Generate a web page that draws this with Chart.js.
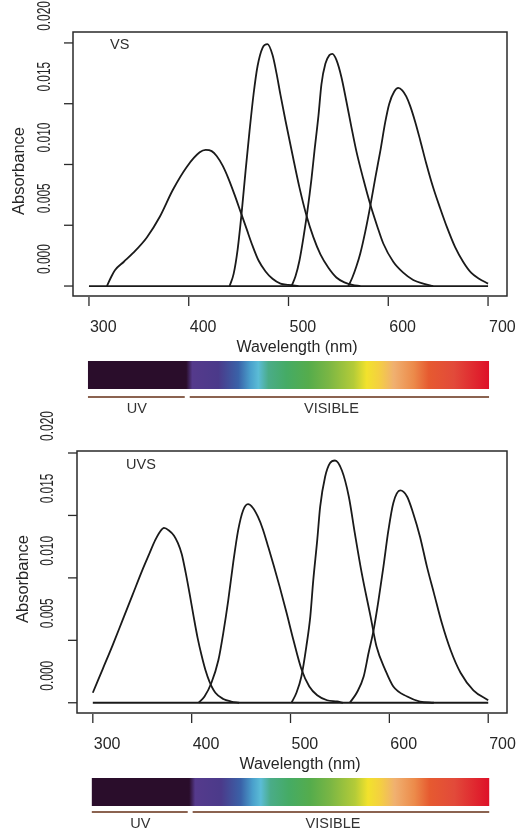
<!DOCTYPE html>
<html>
<head>
<meta charset="utf-8">
<script src="https://cdn.jsdelivr.net/npm/chart.js@4.4.0/dist/chart.umd.min.js"></script>
<style>
  html, body { margin: 0; padding: 0; background: #fff; }
  .panel { position: absolute; left: 0; width: 525px; }
</style>
</head>
<body>
<div class="panel" style="top:0;height:420px"><canvas id="vs"></canvas></div>
<div class="panel" style="top:400px;height:434px"><canvas id="uvs"></canvas></div>
<script>
// axis ticks
const xTicks = [300, 400, 500, 600, 700];
const yTicks = [0, 0.005, 0.010, 0.015, 0.020];
const yTickLabels = ["0.000", "0.005", "0.010", "0.015", "0.020"];
const baseNm = [300, 700];
const baseAbs = [0, 0];

// VS panel
const vs1Nm  = [318, 322, 326, 335, 344, 358, 371, 384, 398, 411, 417, 423, 428, 434, 440, 446, 452, 458, 464, 470, 477, 484, 492, 500, 510];
const vs1Abs = [0, 0.0007, 0.0013, 0.0020, 0.0027, 0.0040, 0.0057, 0.0079, 0.0098, 0.0110, 0.0112, 0.0111, 0.0107, 0.0099, 0.0088, 0.0075, 0.0061, 0.0047, 0.0033, 0.0021, 0.0012, 0.0006, 0.0002, 0.0001, 0];
const vs2Nm  = [441, 445, 449, 453, 457, 461, 465, 469, 474, 479, 484, 488, 492, 497, 504, 511, 518, 525, 532, 540, 548, 556, 564, 572];
const vs2Abs = [0, 0.0010, 0.0030, 0.0060, 0.0095, 0.0128, 0.0158, 0.0181, 0.0196, 0.0199, 0.0190, 0.0175, 0.0157, 0.0136, 0.0108, 0.0081, 0.0058, 0.0040, 0.0026, 0.0015, 0.0007, 0.0003, 0.0001, 0];
const vs3Nm  = [503, 507, 511, 515, 519, 523, 526, 530, 533, 537, 541, 544, 548, 553, 558, 563, 568, 575, 582, 589, 595, 605, 615, 625, 635, 645];
const vs3Abs = [0, 0.0008, 0.0021, 0.0040, 0.0062, 0.0088, 0.0111, 0.0140, 0.0166, 0.0183, 0.0190, 0.0191, 0.0186, 0.0172, 0.0152, 0.0131, 0.0111, 0.0088, 0.0067, 0.0049, 0.0035, 0.0020, 0.0011, 0.0005, 0.0002, 0];
const vs4Nm  = [560, 564, 568, 572, 577, 582, 587, 592, 597, 601, 606, 610, 614, 618, 622, 627, 632, 638, 645, 652, 659, 667, 675, 683, 691, 700];
const vs4Abs = [0, 0.0007, 0.0016, 0.0027, 0.0045, 0.0066, 0.0089, 0.0111, 0.0135, 0.0150, 0.0160, 0.0163, 0.0161, 0.0156, 0.0148, 0.0135, 0.0120, 0.0101, 0.0081, 0.0064, 0.0048, 0.0032, 0.0020, 0.0011, 0.0006, 0.0002];

// UVS panel
const uvs1Nm  = [300, 310, 320, 330, 340, 350, 357, 363, 368, 372, 377, 382, 386, 390, 394, 398, 402, 406, 410, 414, 418, 424, 432, 440, 448];
const uvs1Abs = [0.0008, 0.0027, 0.0046, 0.0066, 0.0086, 0.0106, 0.0119, 0.0130, 0.0137, 0.0140, 0.0138, 0.0134, 0.0128, 0.0119, 0.0104, 0.0087, 0.0069, 0.0052, 0.0038, 0.0026, 0.0017, 0.0008, 0.0003, 0.0001, 0];
const uvs2Nm  = [407, 413, 420, 427, 432, 437, 442, 447, 452, 457, 462, 467, 472, 477, 483, 489, 496, 503, 511, 519, 527, 537, 547, 553];
const uvs2Abs = [0, 0.0005, 0.0016, 0.0034, 0.0056, 0.0082, 0.0112, 0.0138, 0.0154, 0.0159, 0.0156, 0.0149, 0.0139, 0.0126, 0.0110, 0.0093, 0.0072, 0.0050, 0.0027, 0.0013, 0.0006, 0.0002, 0.0001, 0];
const uvs3Nm  = [501, 506, 511, 516, 520, 523, 527, 530, 535, 540, 545, 552, 559, 565, 572, 581, 587, 596, 604, 618, 631, 645];
const uvs3Abs = [0, 0.0008, 0.0021, 0.0045, 0.0069, 0.0098, 0.0130, 0.0157, 0.0181, 0.0192, 0.0194, 0.0186, 0.0165, 0.0136, 0.0104, 0.0069, 0.0045, 0.0026, 0.0013, 0.0005, 0.0001, 0];
const uvs4Nm  = [560, 567, 574, 579, 584, 589, 594, 599, 604, 611, 618, 624, 631, 638, 645, 653, 662, 672, 685, 700];
const uvs4Abs = [0, 0.0008, 0.0021, 0.0040, 0.0058, 0.0082, 0.0109, 0.0138, 0.0160, 0.0170, 0.0165, 0.0152, 0.0133, 0.0109, 0.0088, 0.0064, 0.0042, 0.0024, 0.0010, 0.0002];

// colour bar under each panel
const spectrumNm = [300, 398, 404, 430, 450, 462, 470, 480, 498, 520, 540, 565, 578, 590, 605, 625, 640, 665, 700];
const spectrumColors = ["#2a0d2b", "#2a0d2b", "#553a8c", "#4b3a8a", "#3a62a8", "#4aa0cc", "#5bbcd6", "#4aac88", "#45ab65",
  "#55ac4c", "#7ab644", "#b4cb38", "#f2e22c", "#f4d040", "#f0b070", "#ec8a4a", "#e65a30", "#e24a3a", "#de1028"];

function pts(nm, abs) {
    return nm.map((x, i) => ({ x: x, y: abs[i] }));
}

function curve(nm, abs) {
    return {
        data: pts(nm, abs),
        borderColor: "#1a1a1a",
        borderWidth: 1.8,
        pointRadius: 0,
        fill: false,
        cubicInterpolationMode: "monotone",
    };
}

const FONT = '"Liberation Sans", Arial, sans-serif';

// R style frame, ticks, labels and the spectrum strip
const rAxes = {
    id: "rAxes",
    afterDraw(chart, args, o) {
        const { ctx, chartArea: a } = chart;
        const x = chart.scales.x, y = chart.scales.y;
        ctx.save();
        ctx.strokeStyle = "#2a2a2a";
        ctx.lineWidth = 1.5;
        ctx.strokeRect(a.left, a.top, a.right - a.left, a.bottom - a.top);

        ctx.lineWidth = 1.3;
        ctx.fillStyle = "#262626";
        yTicks.forEach((v, i) => {
            const py = y.getPixelForValue(v);
            ctx.beginPath();
            ctx.moveTo(a.left - 9, py);
            ctx.lineTo(a.left, py);
            ctx.stroke();
            ctx.save();
            ctx.translate(o.yLabelX, py - 27);
            ctx.rotate(-Math.PI / 2);
            ctx.scale(0.68, 1);
            ctx.font = "17.5px " + FONT;
            ctx.textAlign = "center";
            ctx.textBaseline = "middle";
            ctx.fillText(yTickLabels[i], 0, 0);
            ctx.restore();
        });

        ctx.font = "16px " + FONT;
        ctx.textBaseline = "middle";
        xTicks.forEach((v) => {
            const px = x.getPixelForValue(v);
            ctx.beginPath();
            ctx.moveTo(px, a.bottom + 1);
            ctx.lineTo(px, a.bottom + 10);
            ctx.stroke();
            ctx.textAlign = "left";
            ctx.fillText(String(v), px + 1, a.bottom + 32);
        });
        ctx.textAlign = "center";
        ctx.fillText("Wavelength (nm)", o.xTitleX, a.bottom + 52);

        ctx.save();
        ctx.translate(o.yTitleX, o.yTitleY);
        ctx.rotate(-Math.PI / 2);
        ctx.font = "16.5px " + FONT;
        ctx.fillText("Absorbance", 0, 0);
        ctx.restore();

        ctx.font = "14.5px " + FONT;
        ctx.textAlign = "left";
        ctx.fillStyle = "#2e2e2e";
        ctx.fillText(o.label, o.labelX, o.labelY);

        // spectrum strip
        const x0 = x.getPixelForValue(300) - 1, x1 = x.getPixelForValue(700) + 1;
        const grad = ctx.createLinearGradient(x0, 0, x1, 0);
        spectrumNm.forEach((nm, i) => {
            grad.addColorStop((nm - 300) / 400, spectrumColors[i]);
        });
        ctx.fillStyle = grad;
        ctx.fillRect(x0, a.bottom + 65, x1 - x0, 28);

        ctx.strokeStyle = "#8b6350";
        ctx.lineWidth = 2;
        ctx.beginPath();
        ctx.moveTo(x0, a.bottom + o.bracketY);
        ctx.lineTo(x.getPixelForValue(396), a.bottom + o.bracketY);
        ctx.moveTo(x.getPixelForValue(401), a.bottom + o.bracketY);
        ctx.lineTo(x1, a.bottom + o.bracketY);
        ctx.stroke();

        ctx.fillStyle = "#333";
        ctx.textAlign = "center";
        ctx.font = "14.5px " + FONT;
        ctx.fillText("UV", x.getPixelForValue(348), a.bottom + o.bracketY + 12);
        ctx.fillText("VISIBLE", x.getPixelForValue(543), a.bottom + o.bracketY + 12);
        ctx.restore();
    },
};

function makeChart(id, sets, pad, yMax, extra) {
    return new Chart(document.getElementById(id).getContext("2d"), {
        type: "line",
        data: {
            datasets: [curve(baseNm, baseAbs)].concat(sets.map((s) => curve(s[0], s[1]))),
        },
        options: {
            responsive: true,
            maintainAspectRatio: false,
            animation: false,
            layout: { padding: pad },
            scales: {
                x: { type: "linear", min: 284, max: 719, display: false },
                y: { type: "linear", min: -0.00082, max: yMax, display: false },
            },
            plugins: {
                legend: { display: false },
                tooltip: { enabled: false },
                rAxes: extra,
            },
        },
        plugins: [rAxes],
    });
}

makeChart("vs",
    [[vs1Nm, vs1Abs], [vs2Nm, vs2Abs], [vs3Nm, vs3Abs], [vs4Nm, vs4Abs]],
    { left: 73, top: 32, right: 18, bottom: 124 }, 0.0209,
    { label: "VS", labelX: 110, labelY: 45, yLabelX: 45, yTitleX: 19, yTitleY: 171, xTitleX: 297, bracketY: 101 });

makeChart("uvs",
    [[uvs1Nm, uvs1Abs], [uvs2Nm, uvs2Abs], [uvs3Nm, uvs3Abs], [uvs4Nm, uvs4Abs]],
    { left: 77, top: 51, right: 18, bottom: 121 }, 0.02016,
    { label: "UVS", labelX: 126, labelY: 65, yLabelX: 48, yTitleX: 23, yTitleY: 179, xTitleX: 300, bracketY: 99 });
</script>
</body>
</html>
